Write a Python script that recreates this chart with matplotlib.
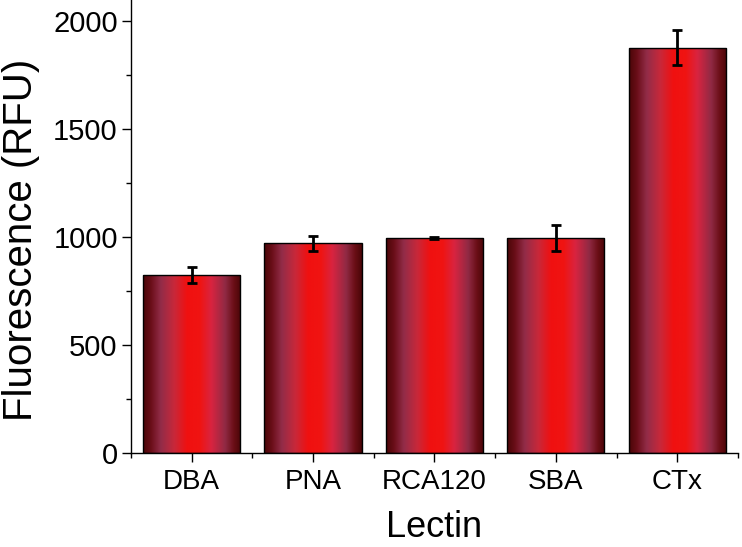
import numpy as np
import matplotlib
matplotlib.use('Agg')
import matplotlib.pyplot as plt
from matplotlib.colors import LinearSegmentedColormap
from matplotlib.ticker import MultipleLocator

# data
lectins = ['DBA', 'PNA', 'RCA120', 'SBA', 'CTx']
fluorescence = [823, 970, 995, 993, 1875]
errors = [35, 35, 6, 60, 80]

plt.rcParams['font.family'] = ['Liberation Sans', 'DejaVu Sans']

# Origin-style gradient fill: dark edges, bright red middle
grad = LinearSegmentedColormap.from_list('bar_grad', [
    (0.00, '#4a0608'), (0.08, '#6a0e18'), (0.18, '#922c48'),
    (0.32, '#c8283a'), (0.45, '#f01010'), (0.58, '#f01412'),
    (0.70, '#d82440'), (0.84, '#902a44'), (0.93, '#6a0e16'),
    (1.00, '#4a0608')])

fig = plt.figure(figsize=(7.42, 5.47), dpi=100)
ax = fig.add_axes([0.1765, 0.172, 0.818, 0.83])

x = np.arange(1, len(lectins) + 1)
width = 0.8
bars = ax.bar(x, fluorescence, width=width, facecolor='none',
              edgecolor='black', linewidth=1.0, zorder=3)

row = np.linspace(0, 1, 256).reshape(1, -1)
for b in bars:
    x0, y0 = b.get_x(), b.get_y()
    im = ax.imshow(row, cmap=grad, aspect='auto', interpolation='bilinear',
                   extent=(x0, x0 + b.get_width(), y0, y0 + b.get_height()),
                   zorder=2)
    im.set_clip_path(b)

ax.errorbar(x, fluorescence, yerr=errors, fmt='none', ecolor='black',
            elinewidth=2, capsize=3.5, capthick=2, zorder=4)

ax.set_xlim(0.5, 5.5)
ax.set_ylim(0, 2100)
ax.set_xticks(x)
ax.set_xticklabels(lectins)
ax.xaxis.set_minor_locator(MultipleLocator(1, offset=0.5))
ax.yaxis.set_major_locator(MultipleLocator(500))
ax.yaxis.set_minor_locator(MultipleLocator(250))

ax.spines['top'].set_visible(False)
ax.spines['right'].set_visible(False)
ax.spines['left'].set_linewidth(1.0)
ax.spines['bottom'].set_linewidth(1.0)
ax.tick_params(which='major', direction='out', length=6.5, width=1.0,
               labelsize=20, pad=3)
ax.tick_params(axis='y', which='major', labelsize=21)
ax.tick_params(axis='x', which='major', pad=5)
ax.tick_params(which='minor', direction='out', length=3.5, width=1.0)

ax.set_xlabel('Lectin', fontsize=26)
ax.set_ylabel('Fluorescence (RFU)', fontsize=29)
ax.xaxis.set_label_coords(0.5, -0.125)
ax.yaxis.set_label_coords(-0.15, 0.47)

fig.savefig('out.png', dpi=100)
